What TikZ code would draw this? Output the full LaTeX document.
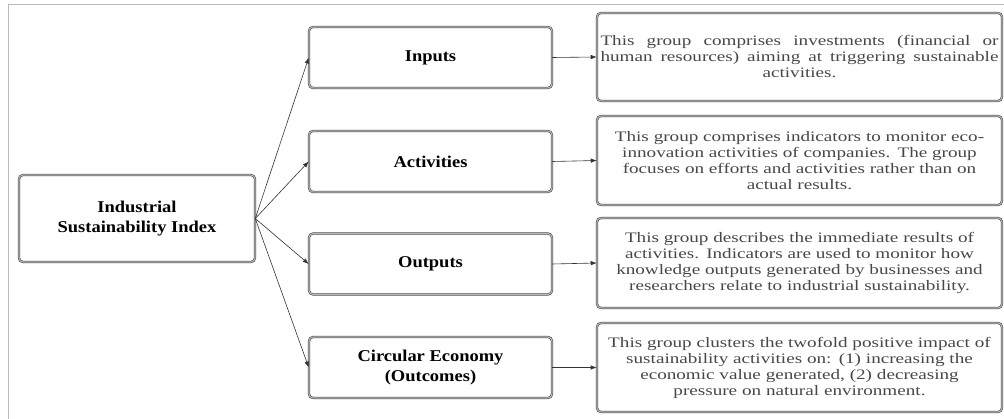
\documentclass[tikz,border=0pt]{standalone}
\usepackage{fontspec}
\setmainfont{Liberation Serif}
\newfontfamily\titlefont[FakeStretch=1.12]{Liberation Serif}
\newfontfamily\descfont[FakeStretch=1.32]{Liberation Serif}
\usetikzlibrary{arrows.meta}
\begin{document}
\begin{tikzpicture}[x=1pt,y=-1pt,
  boxline/.style={draw=black!75, line width=0.55pt, double=gray!55,
    double distance=1.1pt, rounded corners=4pt},
  titlebox/.style={boxline, minimum width=243pt, minimum height=61pt,
    align=center, inner sep=2pt,
    font=\titlefont\bfseries\fontsize{16.5}{20}\selectfont},
  descbox/.style={boxline, minimum width=405pt, text width=398pt,
    inner sep=2.5pt, text=black!72,
    font=\descfont\fontsize{14.5}{16}\selectfont},
  link/.style={draw=black!80, line width=0.6pt,
    -{Latex[length=6pt,width=4.5pt]}},
  frameline/.style={draw=gray!55, line width=1pt}
]
\useasboundingbox (0,0) rectangle (1004,419);

% outer frame (top and left edges)
\coordinate (fa) at (8,419);
\coordinate (fb) at (8,5);
\coordinate (fc) at (1004,5);
\draw[frameline] (fa) -- (fb) -- (fc);

% root
\node[titlebox, minimum width=236pt, minimum height=87pt] (isi) at (137,218.5)
  {Industrial\\Sustainability Index};

% groups
\node[titlebox] (in)  at (430.5,57.5)  {Inputs};
\node[titlebox] (act) at (430.5,161.5) {Activities};
\node[titlebox] (out) at (430.5,264)   {Outputs};
\node[titlebox] (ce)  at (430.5,367.5) {Circular Economy\\(Outcomes)};

% descriptions
\node[descbox, minimum height=88pt, align=justify] (din) at (799.5,57)
  {This group comprises investments (financial or\linebreak
   human resources) aiming at triggering sustainable\linebreak
   \mbox{}\hfill activities.\hfill\mbox{}};
\node[descbox, minimum height=89pt, align=center] (dact) at (799.5,160.5)
  {This group comprises indicators to monitor eco-\\
   innovation activities of companies. The group\\
   focuses on efforts and activities rather than on\\
   actual results.};
\node[descbox, minimum height=90pt, align=center] (dout) at (799.5,263)
  {This group describes the immediate results of\\
   activities. Indicators are used to monitor how\\
   knowledge outputs generated by businesses and\\
   researchers relate to industrial sustainability.};
\node[descbox, minimum height=89pt, align=center] (dce) at (799.5,367.5)
  {This group clusters the twofold positive impact of\\
   sustainability activities on: (1) increasing the\\
   economic value generated, (2) decreasing\\
   pressure on natural environment.};

% fan-out from the index
\draw[link] (isi.east) -- (in.west);
\draw[link] (isi.east) -- (act.west);
\draw[link] (isi.east) -- (out.west);
\draw[link] (isi.east) -- (ce.west);

% group to description
\draw[link] (in.east)  -- (din.west);
\draw[link] (act.east) -- (dact.west);
\draw[link] (out.east) -- (dout.west);
\draw[link] (ce.east)  -- (dce.west);
\end{tikzpicture}
\end{document}
